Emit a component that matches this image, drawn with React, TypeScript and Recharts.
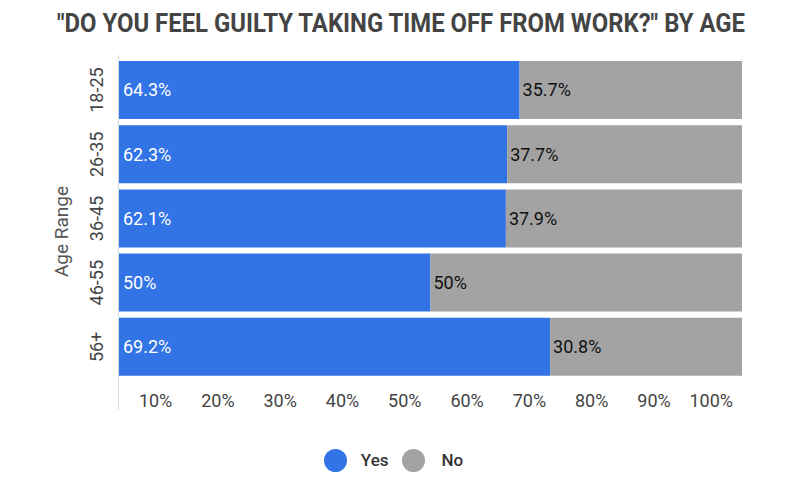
import React from 'react';
import * as R from 'recharts';
import { BarChart, Bar, XAxis, YAxis, LabelList, Legend } from 'recharts';

const categories = ['18-25', '26-35', '36-45', '46-55', '56+'];
const yesValues = [64.3, 62.3, 62.1, 50, 69.2];
const noValues = [35.7, 37.7, 37.9, 50, 30.8];
const xTicks = [10, 20, 30, 40, 50, 60, 70, 80, 90, 100];
const seriesNames = ['Yes', 'No'];
const titleText = '"DO YOU FEEL GUILTY TAKING TIME OFF FROM WORK?" BY AGE';
const yAxisTitle = 'Age Range';

const BLUE = '#3273e6';
const GRAY = '#a3a3a3';
const FONT = 'Roboto, "Noto Sans", sans-serif';

const data = categories.map((c, i) => ({ age: c, yes: yesValues[i], no: noValues[i] }));

const MARGIN = { top: 58, right: 58, bottom: 17, left: 20 };
const W = 800;
const H = 489;

const XTick = (props: any) => {
  const { x, y, payload } = props;
  return (
    <text x={x - 9} y={y + 28} textAnchor="end" fill="#444" fontSize={18} fontFamily={FONT}>
      {`${payload.value}%`}
    </text>
  );
};

const YTick = (props: any) => {
  const { x, y, payload } = props;
  return (
    <text
      transform={`translate(${x - 16},${y}) rotate(-90)`}
      textAnchor="middle"
      fill="#444"
      fontSize={18}
      fontFamily={FONT}
    >
      {payload.value}
    </text>
  );
};

const Extras = () => {
  const hook: any = (R as any).usePlotArea;
  let area: any = null;
  if (hook) area = hook();
  if (!area) {
    area = { x: 119, y: 58, width: 623, height: 321 };
  }
  const ax = area.x - 0.5;
  return (
    <g>
      <text
        x={W / 2 + 1}
        y={32}
        textAnchor="middle"
        fontSize={25}
        fontWeight="bold"
        fill="#444"
        fontFamily={FONT}
        textLength={688}
        lengthAdjust="spacingAndGlyphs"
      >
        {titleText}
      </text>
      <line x1={ax} x2={ax} y1={area.y - 3} y2={area.y + area.height + 31} stroke="#d9d9d9" strokeWidth={1} />
      <text
        transform={`translate(${area.x - 51},${area.y + area.height / 2 + 13}) rotate(-90)`}
        textAnchor="middle"
        fill="#555"
        fontSize={19}
        fontFamily={FONT}
      >
        {yAxisTitle}
      </text>
    </g>
  );
};

const LegendContent = () => (
  <div
    style={{
      display: 'flex',
      justifyContent: 'center',
      alignItems: 'center',
      height: 24,
      paddingRight: 13,
      fontFamily: FONT,
      fontSize: 17,
      fontWeight: 500,
      color: '#333',
    }}
  >
    <span style={{ width: 23, height: 23, borderRadius: 12, background: BLUE, display: 'inline-block' }} />
    <span style={{ marginLeft: 14 }}>{seriesNames[0]}</span>
    <span style={{ width: 23, height: 23, borderRadius: 12, background: GRAY, display: 'inline-block', marginLeft: 14 }} />
    <span style={{ marginLeft: 16 }}>{seriesNames[1]}</span>
  </div>
);

export default function App() {
  return (
    <div style={{ position: 'absolute', left: 0, top: 0, width: W, height: H, background: '#fff' }}>
      <BarChart width={W} height={H} data={data} layout="vertical" margin={MARGIN} barCategoryGap={3}>
        <XAxis
          type="number"
          domain={[0, 100]}
          ticks={xTicks}
          axisLine={false}
          tickLine={false}
          tickSize={0}
          tickMargin={0}
          height={69}
          tick={<XTick />}
          interval={0}
        />
        <YAxis
          type="category"
          dataKey="age"
          width={99}
          axisLine={false}
          tickLine={false}
          tickSize={0}
          tickMargin={0}
          tick={<YTick />}
          interval={0}
        />
        <Legend
          verticalAlign="bottom"
          height={24}
          wrapperStyle={{ left: 0, width: W }}
          content={<LegendContent />}
        />
        <Bar dataKey="yes" name={seriesNames[0]} stackId="a" fill={BLUE} isAnimationActive={false}>
          <LabelList
            dataKey="yes"
            position="insideLeft"
            offset={4}
            fill="#fff"
            fontSize={18}
            fontFamily={FONT}
            formatter={(v: any) => `${v}%`}
          />
        </Bar>
        <Bar dataKey="no" name={seriesNames[1]} stackId="a" fill={GRAY} isAnimationActive={false}>
          <LabelList
            dataKey="no"
            position="insideLeft"
            offset={3}
            fill="#111"
            fontSize={18}
            fontFamily={FONT}
            formatter={(v: any) => `${v}%`}
          />
        </Bar>
        <Extras />
      </BarChart>
    </div>
  );
}
